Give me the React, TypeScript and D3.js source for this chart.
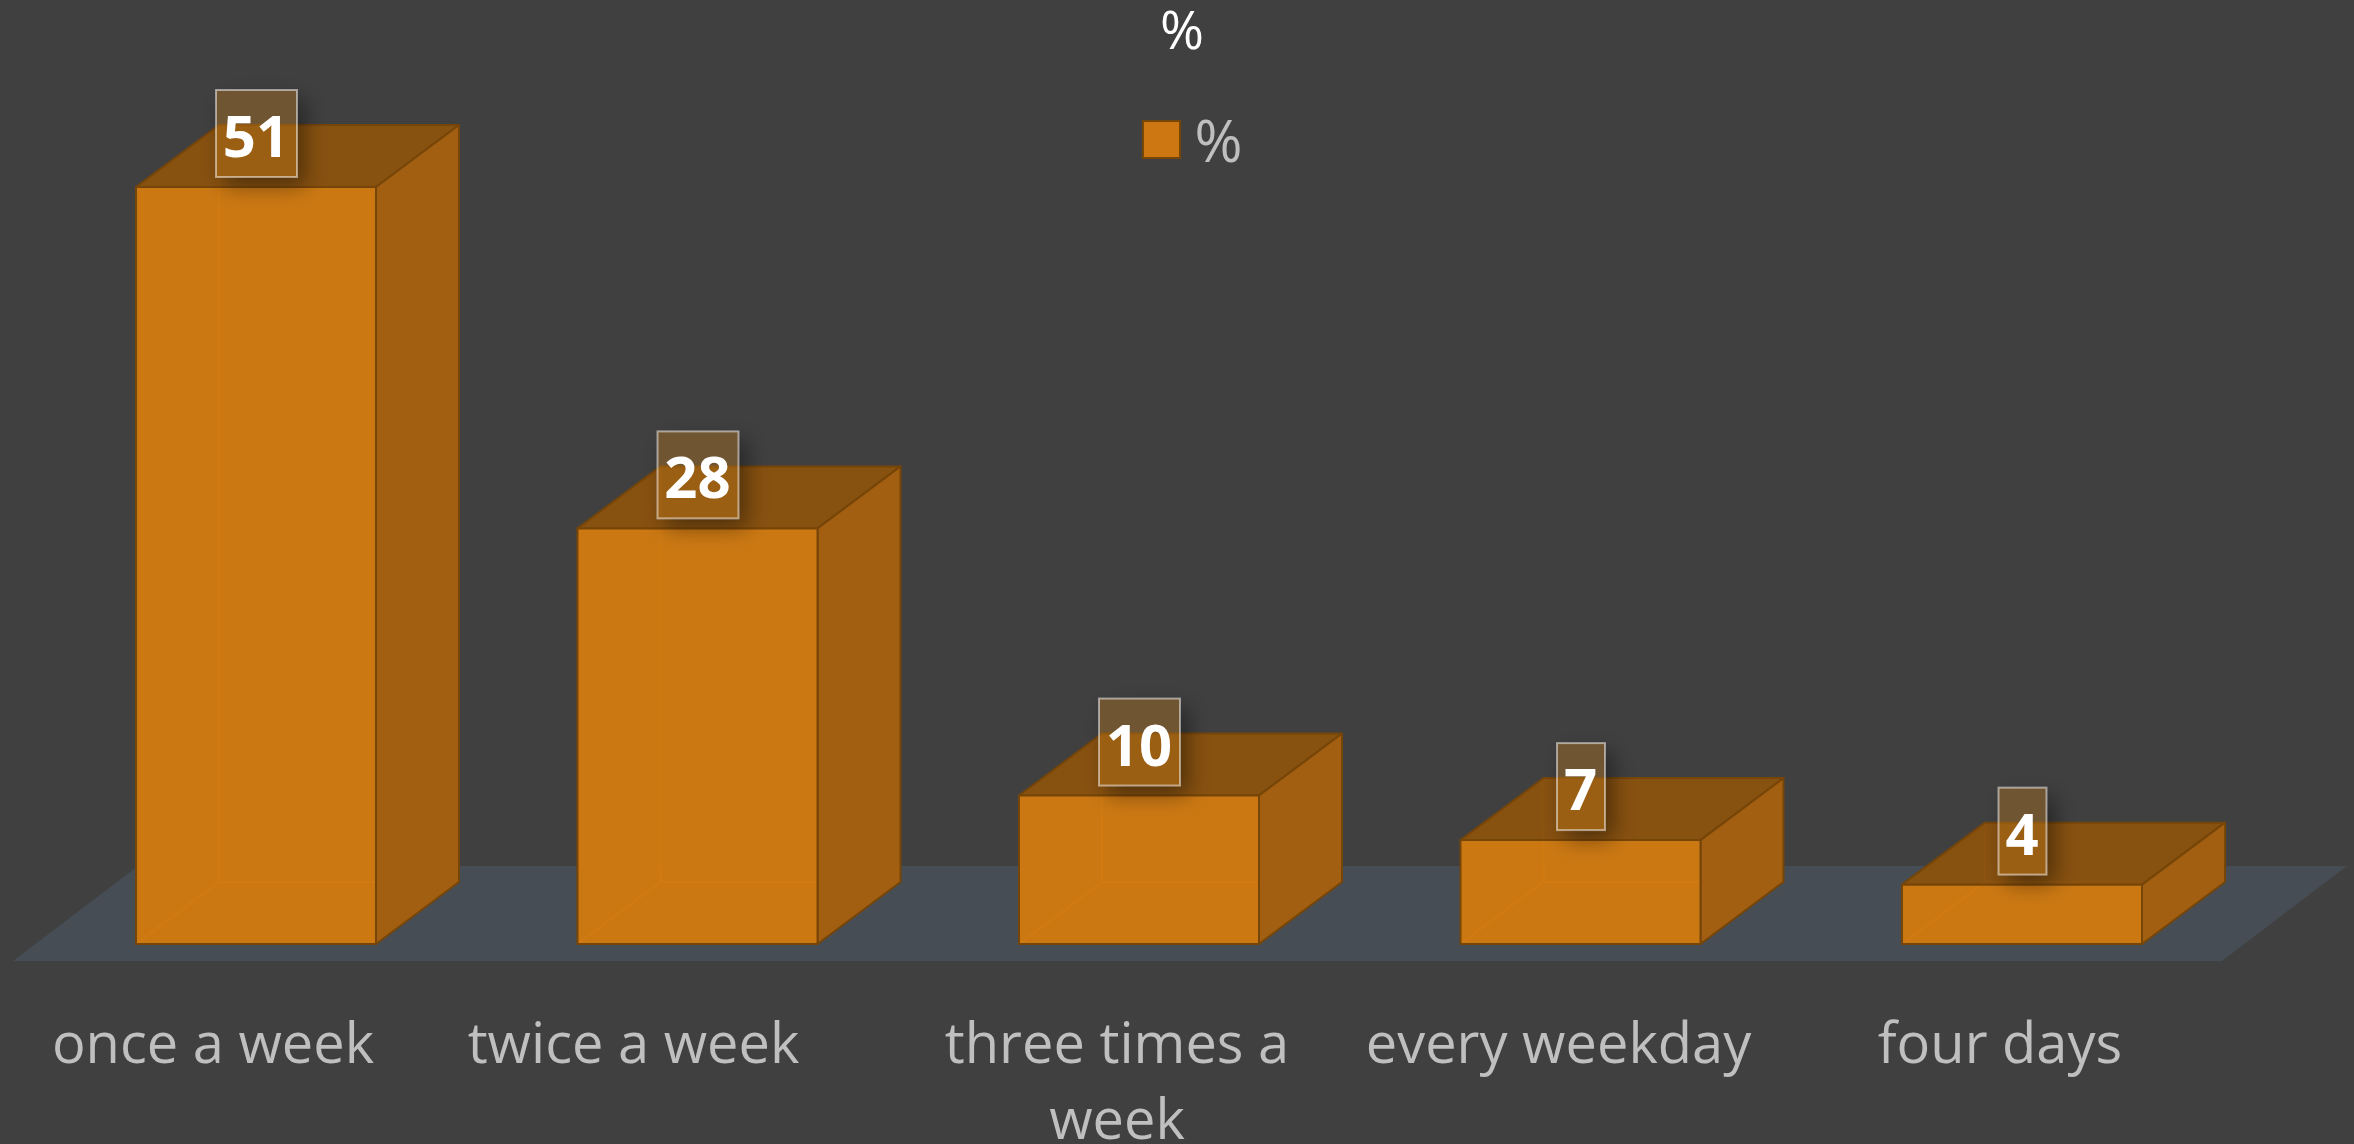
import React from 'react';
import * as d3 from 'd3';

const categories = ['once a week', 'twice a week', 'three times a week', 'every weekday', 'four days'];
const categoryLines = [['once a week'], ['twice a week'], ['three times a', 'week'], ['every weekday'], ['four days']];
const values = [51, 28, 10, 7, 4];
const seriesName = '%';
const chartTitle = '%';

const W = 2354, H = 1144;
const BASE = 944, DX = 83, DY = 62;
const FONT = '"Open Sans", sans-serif';
// horizontal shift of each axis label from its bar's centre
const labelShift = [-43, -64, -22, -22, -22];

export default function App() {
  const x = d3.scaleBand<string>().domain(categories).range([136, 2142]).paddingInner(1 - 240 / 441.5).paddingOuter(0);
  const bw = x.bandwidth();
  const y = d3.scaleLinear().domain([0, 51]).range([BASE, 187]);
  const line = d3.line();
  const poly = (pts: [number, number][]) => line(pts) + 'Z';
  const edge = '#764508';

  return (
    <svg width={W} height={H} viewBox={`0 0 ${W} ${H}`} style={{ position: 'fixed', left: 0, top: 0, display: 'block' }}>
      <defs>
        <filter id="sh" x="-80%" y="-60%" width="260%" height="220%">
          <feOffset in="SourceAlpha" dx="8" dy="9" />
          <feGaussianBlur stdDeviation="11" result="b" />
          <feComposite in="b" in2="SourceAlpha" operator="out" />
          <feComponentTransfer><feFuncA type="linear" slope="0.42" /></feComponentTransfer>
        </filter>
      </defs>
      <rect width={W} height={H} fill="#404040" />
      <path d={poly([[13, 961], [138, 866], [2347, 866], [2222, 961]])} fill="#464d54" />
      {categories.map((c, i) => {
        const v = values[i];
        const l = x(c)!, r = l + bw, t = y(v), b = y(0);
        return (
          <g key={c} strokeLinejoin="round">
            <path d={`M${l},${b}L${l + DX},${b - DY}L${r},${b - DY}M${l + DX},${b - DY}L${l + DX},${t - DY}`} fill="none" stroke="#d8820f" strokeWidth={2} />
            <path d={poly([[l, t], [l + DX, t - DY], [r + DX, t - DY], [r, t]])} fill="#89520e" fillOpacity={0.97} stroke={edge} strokeWidth={2} />
            <path d={poly([[r, t], [r + DX, t - DY], [r + DX, b - DY], [r, b]])} fill="#a56011" fillOpacity={0.97} stroke={edge} strokeWidth={2} />
            <path d={poly([[l, t], [r, t], [r, b], [l, b]])} fill="#d07a12" fillOpacity={0.97} stroke={edge} strokeWidth={2} />
          </g>
        );
      })}
      {categories.map((c, i) => {
        const v = values[i];
        const cx = x(c)! + bw / 2, t = y(v);
        const w = String(v).length > 1 ? 81 : 48;
        const bx = cx - w / 2 + 0.5, by = t - 97, bh = 87;
        return (
          <g key={'label' + i}>
            <rect x={bx} y={by} width={w} height={bh} fill="#000" filter="url(#sh)" />
            <rect x={bx} y={by} width={w} height={bh} fill="rgb(187,118,28)" fillOpacity={0.39} stroke="#ffffff" strokeOpacity={0.5} strokeWidth={2} />
            <text x={cx} y={t - 30} textAnchor="middle" fontFamily={FONT} fontWeight={700} fontSize={58} fill="#fff">{v}</text>
          </g>
        );
      })}
      {categories.map((c, i) => {
        const cx = x(c)! + bw / 2 + labelShift[i];
        return (
          <text key={'cat' + i} textAnchor="middle" fontFamily={FONT} fontSize={56} fill="#bfbfbf">
            {categoryLines[i].map((s, j) => <tspan key={j} x={cx} y={1063 + j * 76}>{s}</tspan>)}
          </text>
        );
      })}
      <text x={1182} y={49} textAnchor="middle" fontFamily={FONT} fontSize={53} fill="#fff" textLength={44} lengthAdjust="spacingAndGlyphs">{chartTitle}</text>
      <rect x={1143} y={121} width={37} height={37} fill="#cd7712" stroke={edge} strokeWidth={2} />
      <text x={1218.5} y={162} textAnchor="middle" fontFamily={FONT} fontSize={58} fill="#bfbfbf" textLength={48} lengthAdjust="spacingAndGlyphs">{seriesName}</text>
    </svg>
  );
}
